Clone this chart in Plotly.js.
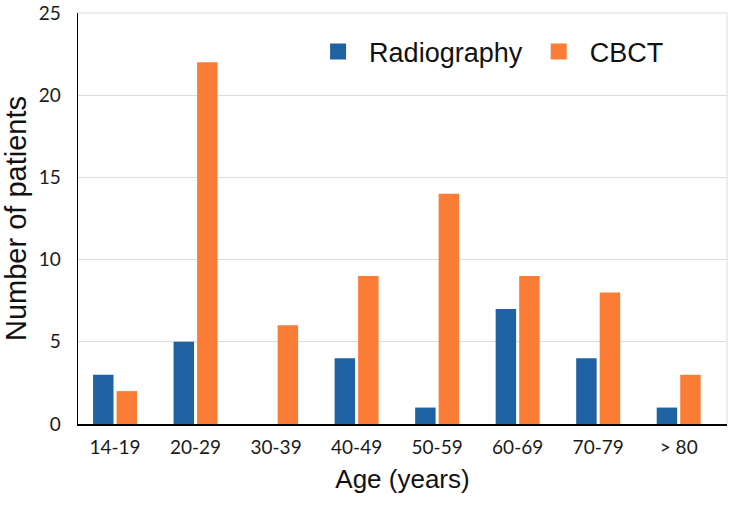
<!DOCTYPE html>
<html>
<head>
<meta charset="utf-8">
<script src="https://cdn.plot.ly/plotly-3.0.1.min.js"></script>
<style>html,body{margin:0;padding:0;background:#fff;}#chart{width:731px;height:506px;}</style>
</head>
<body>
<div id="chart"></div>
<script>
const categories = ["14-19", "20-29", "30-39", "40-49", "50-59", "60-69", "70-79", "> 80"];
const radiography = [3, 5, 0, 4, 1, 7, 4, 1];
const cbct = [2, 22, 6, 9, 14, 9, 8, 3];
const seriesNames = ["Radiography", "CBCT"];
const yTicks = [0, 5, 10, 15, 20, 25];

const blue = "#1f62a4";
const orange = "#fb7d35";

const data = [
  {type: "bar", x: categories, y: radiography, name: seriesNames[0], marker: {color: blue}, showlegend: false},
  {type: "bar", x: categories, y: cbct, name: seriesNames[1], marker: {color: orange}, showlegend: false},
  {type: "scatter", mode: "markers", x: [null], y: [null], name: seriesNames[0], marker: {symbol: "square", size: 19, color: blue}, hoverinfo: "skip"},
  {type: "scatter", mode: "markers", x: [null], y: [null], name: seriesNames[1], marker: {symbol: "square", size: 19, color: orange}, hoverinfo: "skip"}
];

const layout = {
  width: 731, height: 506,
  margin: {l: 78, r: 4, t: 13, b: 82},
  paper_bgcolor: "#ffffff", plot_bgcolor: "#ffffff",
  barmode: "group",
  bargap: 0.416,
  bargroupgap: 0.13,
  showlegend: true,
  legend: {
    orientation: "h", x: 0.353, y: 0.905, xanchor: "left", yanchor: "middle",
    font: {family: "Liberation Sans, Arial, sans-serif", size: 27, color: "#111"},
    bgcolor: "rgba(0,0,0,0)", itemwidth: 52, tracegroupgap: 0
  },
  xaxis: {
    type: "category",
    range: [-0.46, 7.6],
    showgrid: false,
    showline: true, linecolor: "#000", linewidth: 1.5,
    ticks: "outside", ticklen: 6, tickcolor: "rgba(0,0,0,0)",
    tickfont: {family: "Lato, Carlito, sans-serif", size: 19, color: "#1a1a1a"},
    title: {text: "Age (years)", font: {family: "Liberation Sans, Arial, sans-serif", size: 26, color: "#111"}, standoff: 12},
    zeroline: false, fixedrange: true
  },
  yaxis: {
    range: [0, 25],
    tickvals: yTicks,
    showgrid: true, gridcolor: "#dcdcdc", gridwidth: 1,
    showline: true, linecolor: "#000", linewidth: 1.5,
    ticks: "outside", ticklen: 12, tickcolor: "rgba(0,0,0,0)",
    tickfont: {family: "Lato, Carlito, sans-serif", size: 19, color: "#1a1a1a"},
    title: {text: "Number of patients", font: {family: "Liberation Sans, Arial, sans-serif", size: 29, color: "#111"}, standoff: 10},
    zeroline: false, fixedrange: true
  },
  shapes: [
    {type: "line", xref: "paper", yref: "paper", x0: 0, x1: 1, y0: 1, y1: 1, line: {color: "#dcdcdc", width: 1}},
    {type: "line", xref: "paper", yref: "paper", x0: 1, x1: 1, y0: 0, y1: 1, line: {color: "#dcdcdc", width: 1}}
  ]
};

Plotly.newPlot("chart", data, layout, {displayModeBar: false, staticPlot: true});
</script>
</body>
</html>
